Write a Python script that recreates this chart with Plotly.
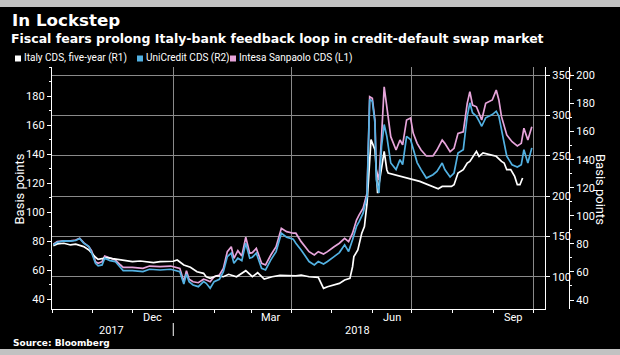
import plotly.graph_objects as go

# ---------------- data ----------------
dates_banks = [
    "2017-10-02", "2017-10-05", "2017-10-10", "2017-10-15", "2017-10-19", "2017-10-22", "2017-10-25", "2017-10-29", "2017-10-31", "2017-11-03",
    "2017-11-05", "2017-11-08", "2017-11-10", "2017-11-14", "2017-11-18", "2017-11-22", "2017-11-24", "2017-12-01", "2017-12-09", "2017-12-14",
    "2017-12-22", "2017-12-30", "2018-01-03", "2018-01-06", "2018-01-09", "2018-01-11", "2018-01-13", "2018-01-16", "2018-01-20", "2018-01-24",
    "2018-01-26", "2018-01-29", "2018-02-01", "2018-02-05", "2018-02-08", "2018-02-11", "2018-02-14", "2018-02-16", "2018-02-19", "2018-02-22",
    "2018-02-25", "2018-02-28", "2018-03-02", "2018-03-05", "2018-03-09", "2018-03-12", "2018-03-16", "2018-03-20", "2018-03-24", "2018-03-28",
    "2018-04-02", "2018-04-04", "2018-04-08", "2018-04-14", "2018-04-18", "2018-04-21", "2018-04-25", "2018-04-28", "2018-05-03", "2018-05-07",
    "2018-05-11", "2018-05-14", "2018-05-17", "2018-05-20", "2018-05-22", "2018-05-25", "2018-05-28", "2018-05-30", "2018-06-01", "2018-06-03",
    "2018-06-04", "2018-06-06", "2018-06-08", "2018-06-10", "2018-06-12", "2018-06-15", "2018-06-19", "2018-06-22", "2018-06-24", "2018-06-27",
    "2018-06-30", "2018-07-02", "2018-07-05", "2018-07-08", "2018-07-12", "2018-07-17", "2018-07-20", "2018-07-24", "2018-07-26", "2018-07-30",
    "2018-08-02", "2018-08-05", "2018-08-09", "2018-08-12", "2018-08-14", "2018-08-16", "2018-08-19", "2018-08-21", "2018-08-23", "2018-08-26",
    "2018-08-31", "2018-09-03", "2018-09-05", "2018-09-07", "2018-09-11", "2018-09-15", "2018-09-19", "2018-09-22", "2018-09-24", "2018-09-27",
    "2018-09-30",
]

intesa_l1 = [
    77.9, 79.7, 80.2, 80.2, 80.8, 82.0, 79.0, 76.2, 73.5, 65.9,
    64.8, 65.9, 69.8, 68.2, 67.1, 63.6, 62.0, 62.0, 61.3, 62.9,
    62.5, 62.9, 62.0, 61.3, 52.1, 59.7, 53.8, 52.1, 51.4, 53.8,
    53.3, 52.1, 55.6, 56.7, 61.3, 72.8, 76.2, 68.2, 73.5, 69.8,
    82.7, 71.7, 72.1, 75.1, 64.8, 63.6, 70.5, 76.2, 88.9, 86.6,
    85.5, 85.5, 79.7, 72.8, 70.5, 72.8, 71.2, 72.8, 76.2, 78.6,
    82.0, 79.7, 85.5, 94.6, 98.1, 102.7, 113.0, 179.5, 178.4, 163.5,
    129.0, 122.2, 152.0, 186.4, 172.6, 152.0, 142.8, 149.7, 146.3, 163.5,
    164.9, 154.5, 147.4, 142.8, 138.7, 138.7, 142.8, 149.7, 147.4, 141.7,
    144.0, 154.3, 155.4, 175.0, 183.0, 173.8, 172.6, 168.1, 163.5, 175.0,
    177.3, 184.1, 177.3, 165.8, 153.2, 148.5, 145.6, 147.4, 157.8, 149.7,
    158.9,
]

unicredit_r2 = [
    79.3, 81.2, 82.1, 81.9, 82.4, 83.8, 80.5, 78.1, 73.8, 66.2,
    64.3, 65.0, 69.8, 68.1, 67.4, 62.6, 60.9, 60.9, 60.2, 61.9,
    61.4, 61.9, 60.9, 60.2, 51.4, 58.6, 53.1, 50.7, 49.5, 53.1,
    51.9, 48.4, 53.1, 54.8, 60.2, 70.9, 73.4, 66.2, 69.8, 68.1,
    80.5, 69.8, 70.5, 73.4, 62.6, 61.4, 68.6, 74.5, 87.6, 84.8,
    83.4, 80.5, 75.7, 67.4, 65.0, 67.4, 65.7, 67.4, 70.9, 73.8,
    79.3, 74.5, 82.9, 92.4, 95.9, 101.9, 113.8, 182.9, 181.6, 166.2,
    125.7, 116.2, 149.5, 165.0, 156.6, 137.6, 132.9, 140.0, 136.4, 156.6,
    154.3, 147.1, 137.9, 132.9, 126.9, 129.3, 131.6, 137.6, 132.9, 127.6,
    130.5, 144.8, 147.1, 170.9, 180.5, 173.4, 170.9, 167.4, 163.8, 169.8,
    172.1, 174.5, 170.9, 161.4, 142.4, 136.4, 134.8, 136.4, 147.1, 137.6,
    148.4,
]

dates_italy = [
    "2017-10-02", "2017-10-05", "2017-10-10", "2017-10-15", "2017-10-19", "2017-10-22", "2017-10-25", "2017-10-29", "2017-10-31", "2017-11-03",
    "2017-11-05", "2017-11-09", "2017-11-12", "2017-11-16", "2017-11-22", "2017-11-26", "2017-12-01", "2017-12-07", "2017-12-12", "2017-12-17",
    "2017-12-22", "2017-12-27", "2018-01-01", "2018-01-04", "2018-01-09", "2018-01-14", "2018-01-19", "2018-01-24", "2018-01-26", "2018-01-29",
    "2018-02-03", "2018-02-08", "2018-02-12", "2018-02-18", "2018-02-25", "2018-03-02", "2018-03-06", "2018-03-11", "2018-03-17", "2018-03-23",
    "2018-03-30", "2018-04-04", "2018-04-08", "2018-04-14", "2018-04-21", "2018-04-25", "2018-04-28", "2018-05-03", "2018-05-07", "2018-05-11",
    "2018-05-15", "2018-05-17", "2018-05-18", "2018-05-21", "2018-05-24", "2018-05-26", "2018-05-28", "2018-05-31", "2018-06-03", "2018-06-04",
    "2018-06-05", "2018-06-07", "2018-06-08", "2018-06-10", "2018-06-12", "2018-06-13", "2018-07-07", "2018-07-21", "2018-07-24", "2018-07-31",
    "2018-08-02", "2018-08-05", "2018-08-09", "2018-08-12", "2018-08-14", "2018-08-19", "2018-08-21", "2018-08-24", "2018-08-29", "2018-09-03",
    "2018-09-07", "2018-09-09", "2018-09-11", "2018-09-14", "2018-09-17", "2018-09-19", "2018-09-21", "2018-09-23",
]

italy_r1 = [
    138.6, 140.7, 141.5, 139.4, 140.3, 139.1, 137.3, 133.2, 129.1, 124.1,
    121.6, 122.9, 123.6, 122.4, 120.8, 119.9, 118.7, 119.5, 118.3, 117.4,
    118.7, 118.7, 119.2, 120.8, 114.6, 111.7, 106.2, 104.2, 100.0, 98.0,
    101.2, 100.0, 103.0, 100.0, 107.5, 100.0, 105.0, 97.1, 100.0, 101.7,
    101.2, 101.2, 102.1, 100.0, 99.3, 85.6, 87.6, 89.7, 91.8, 95.9,
    98.0, 112.4, 124.9, 133.2, 154.0, 162.2, 191.3, 270.0, 257.6, 232.7,
    203.7, 224.4, 236.8, 255.5, 232.7, 228.6, 218.2, 209.1, 211.9, 211.9,
    214.1, 228.6, 232.7, 241.0, 243.0, 255.5, 249.3, 253.5, 251.4, 249.3,
    243.0, 241.0, 232.7, 232.7, 224.4, 214.1, 214.1, 222.4,
]

series_names = ["Italy CDS, five-year (R1)", "UniCredit CDS (R2)", "Intesa Sanpaolo CDS (L1)"]

x_range = ["2017-10-01", "2018-10-10"]
quarter_starts = ["2017-10-01", "2018-01-01", "2018-04-01", "2018-07-01", "2018-10-01"]
month_starts = ["2017-11-01", "2017-12-01", "2018-02-01", "2018-03-01", "2018-05-01",
                "2018-06-01", "2018-08-01", "2018-09-01"]
month_label_dates = ["2017-12-16", "2018-03-16", "2018-06-16", "2018-09-16"]
month_labels = ["Dec", "Mar", "Jun", "Sep"]
year_labels = ["2017", "2018"]
year_label_dates = ["2017-11-15", "2018-05-21"]
year_break = "2018-01-01"

l1_ticks = [40, 60, 80, 100, 120, 140, 160, 180]
r1_ticks = [100, 150, 200, 250, 300, 350]
r2_ticks = [40, 60, 80, 100, 120, 140, 160, 180, 200]

# ---------------- styling ----------------
W, H = 620, 355
ML, MR, MT, MB = 52, 51, 67, 46
PW = W - ML - MR
PH = H - MT - MB
DOMAIN_R = 493 / PW

def px(xp):
    return (xp - ML) / PW

def py(yp):
    return (H - MB - yp) / PH

WHITE = "#ffffff"
BLUE = "#52b1e2"
PINK = "#e6a4da"
GRID = "#8a8a8a"
BAND = "#c2c2c2"
NARROW = "Liberation Sans Narrow, Roboto, Arial, sans-serif"
HEAVY = "DejaVu Sans, Open Sans, sans-serif"
TICKFONT = dict(family=NARROW, size=11, color=WHITE)

fig = go.Figure()
fig.add_trace(go.Scatter(x=dates_banks, y=intesa_l1, mode="lines", name=series_names[2],
                         line=dict(color=PINK, width=1.7), xaxis="x", yaxis="y", showlegend=False))
fig.add_trace(go.Scatter(x=dates_banks, y=unicredit_r2, mode="lines", name=series_names[1],
                         line=dict(color=BLUE, width=1.7), xaxis="x", yaxis="y3", showlegend=False))
fig.add_trace(go.Scatter(x=dates_italy, y=italy_r1, mode="lines", name=series_names[0],
                         line=dict(color=WHITE, width=1.7), xaxis="x", yaxis="y2", showlegend=False))

axis_common = dict(showline=True, linecolor=WHITE, linewidth=1.3, ticks="outside",
                   tickcolor=WHITE, tickwidth=1, ticklen=4, tickfont=TICKFONT, zeroline=False)

fig.update_layout(
    width=W, height=H, autosize=False, showlegend=False,
    margin=dict(l=ML, r=MR, t=MT, b=MB, pad=0),
    paper_bgcolor="#000000", plot_bgcolor="#000000",
    xaxis=dict(type="date", range=x_range, domain=[0, DOMAIN_R], anchor="y",
               tickmode="array", tickvals=quarter_starts, showticklabels=False,
               showgrid=True, gridcolor=GRID, gridwidth=1.2,
               showline=True, linecolor=WHITE, linewidth=1.3,
               ticks="outside", ticklen=3, tickcolor=WHITE,
               minor=dict(tickmode="array", tickvals=month_starts, ticks="outside",
                          ticklen=3, tickcolor=WHITE, showgrid=False),
               zeroline=False),
    yaxis=dict(range=[33.3, 200], tickmode="array", tickvals=l1_ticks, side="left",
               showgrid=False, anchor="x",
               minor=dict(dtick=10, tick0=30, ticks="outside", ticklen=2, tickcolor=WHITE, showgrid=False),
               **axis_common),
    yaxis2=dict(range=[60, 360], tickmode="array", tickvals=r1_ticks, side="right",
                overlaying="y", anchor="x", showgrid=True, gridcolor=GRID, gridwidth=1.2,
                **axis_common),
    yaxis3=dict(range=[33.6, 206], tickmode="array", tickvals=r2_ticks, side="right",
                overlaying="y", anchor="free", position=1.0, showgrid=False,
                minor=dict(dtick=10, tick0=30, ticks="outside", ticklen=2, tickcolor=WHITE, showgrid=False),
                **axis_common),
)

ann = []
ann.append(dict(text="<b>In Lockstep</b>", x=px(10), y=py(20), xref="paper", yref="paper",
                xanchor="left", yanchor="middle", showarrow=False,
                font=dict(family=HEAVY, size=16.7, color=WHITE)))
ann.append(dict(text="<b>Fiscal fears prolong Italy-bank feedback loop in credit-default swap market</b>",
                x=px(9), y=py(38), xref="paper", yref="paper", xanchor="left", yanchor="middle",
                showarrow=False, font=dict(family=HEAVY, size=12.5, color=WHITE)))
legend_text_x = [22, 144, 237]
legend_sq_x = [15, 137, 230]
legend_colors = [WHITE, BLUE, PINK]
for name, tx in zip(series_names, legend_text_x):
    ann.append(dict(text=name, x=px(tx), y=py(58.5), xref="paper", yref="paper",
                    xanchor="left", yanchor="middle", showarrow=False,
                    font=dict(family=NARROW, size=10, color=WHITE)))
ann.append(dict(text="Basis points", x=px(18.5), y=py(189), xref="paper", yref="paper",
                textangle=-90, xanchor="center", yanchor="middle", showarrow=False,
                font=dict(family="Roboto, sans-serif", size=13, color=WHITE)))
ann.append(dict(text="Basis points", x=px(601), y=py(189), xref="paper", yref="paper",
                textangle=90, xanchor="center", yanchor="middle", showarrow=False,
                font=dict(family="Roboto, sans-serif", size=13, color=WHITE)))
for lab, d in zip(month_labels, month_label_dates):
    ann.append(dict(text=lab, x=d, y=py(317), xref="x", yref="paper", xanchor="center",
                    yanchor="middle", showarrow=False, font=TICKFONT))
for lab, d in zip(year_labels, year_label_dates):
    ann.append(dict(text=lab, x=d, y=py(330), xref="x", yref="paper", xanchor="center",
                    yanchor="middle", showarrow=False, font=TICKFONT))
ann.append(dict(text="<b>Source: Bloomberg</b>", x=px(11), y=py(343), xref="paper", yref="paper",
                xanchor="left", yanchor="middle", showarrow=False,
                font=dict(family=HEAVY, size=9, color=WHITE)))

shapes = []
for sx, col in zip(legend_sq_x, legend_colors):
    shapes.append(dict(type="rect", xref="paper", yref="paper", x0=px(sx), x1=px(sx + 6),
                       y0=py(61.5), y1=py(55.5), fillcolor=col, line=dict(width=0)))
shapes.append(dict(type="line", xref="x", yref="paper", x0=year_break, x1=year_break,
                   y0=py(323), y1=py(336), line=dict(color=WHITE, width=1)))
shapes.append(dict(type="rect", xref="paper", yref="paper", x0=px(0), x1=px(W),
                   y0=py(7), y1=py(-2), fillcolor=BAND, line=dict(width=0)))
shapes.append(dict(type="rect", xref="paper", yref="paper", x0=px(0), x1=px(W),
                   y0=py(357), y1=py(349), fillcolor=BAND, line=dict(width=0)))

fig.update_layout(annotations=ann, shapes=shapes)
fig.write_html("out.html", config={"displayModeBar": False},
               post_script="document.body.style.margin='0';document.body.style.padding='0';")
